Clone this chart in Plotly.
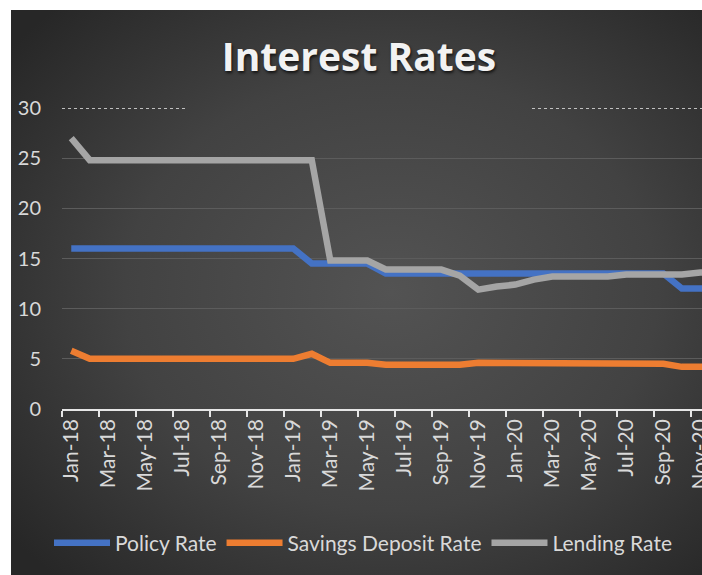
import base64
import plotly.graph_objects as go

months = ["Jan-18", "Feb-18", "Mar-18", "Apr-18", "May-18", "Jun-18", "Jul-18", "Aug-18",
          "Sep-18", "Oct-18", "Nov-18", "Dec-18", "Jan-19", "Feb-19", "Mar-19", "Apr-19",
          "May-19", "Jun-19", "Jul-19", "Aug-19", "Sep-19", "Oct-19", "Nov-19", "Dec-19",
          "Jan-20", "Feb-20", "Mar-20", "Apr-20", "May-20", "Jun-20", "Jul-20", "Aug-20",
          "Sep-20", "Oct-20", "Nov-20", "Dec-20"]

policy_rate = [16, 16, 16, 16, 16, 16, 16, 16, 16, 16, 16, 16, 16, 14.5, 14.5, 14.5,
               14.5, 13.5, 13.5, 13.5, 13.5, 13.5, 13.5, 13.5, 13.5, 13.5, 13.5, 13.5,
               13.5, 13.5, 13.5, 13.5, 13.5, 12, 12, 12]

savings_rate = [5.8, 5.0, 5.0, 5.0, 5.0, 5.0, 5.0, 5.0, 5.0, 5.0, 5.0, 5.0, 5.0, 5.5, 4.6, 4.6,
                4.6, 4.4, 4.4, 4.4, 4.4, 4.4, 4.6, 4.6, 4.6, 4.6, 4.6, 4.6, 4.5, 4.5, 4.5, 4.5,
                4.5, 4.2, 4.2, 4.2]

lending_rate = [27, 24.8, 24.8, 24.8, 24.8, 24.8, 24.8, 24.8, 24.8, 24.8, 24.8, 24.8, 24.8, 24.8,
                14.8, 14.8, 14.8, 13.9, 13.9, 13.9, 13.9, 13.3, 11.9, 12.2, 12.4, 12.9, 13.2,
                13.2, 13.2, 13.2, 13.4, 13.4, 13.4, 13.4, 13.6, 13.6]

y_ticks = [0, 5, 10, 15, 20, 25, 30]

series = [
    ("Policy Rate", policy_rate, "#4472C4"),
    ("Savings Deposit Rate", savings_rate, "#ED7D31"),
    ("Lending Rate", lending_rate, "#A5A5A5"),
]

xs = list(range(len(months)))

fig = go.Figure()
for name, vals, col in series:
    fig.add_trace(go.Scatter(
        x=xs, y=vals, name=name, mode="lines",
        line=dict(color=col, width=6.5),
        hoverinfo="skip",
    ))

svg = (
    '<svg xmlns="http://www.w3.org/2000/svg" width="200" height="200" viewBox="0 0 200 200" '
    'preserveAspectRatio="none"><defs><radialGradient id="g" cx="0.55" cy="0.5" r="0.7">'
    '<stop offset="0" stop-color="#535353"/><stop offset="0.55" stop-color="#424242"/>'
    '<stop offset="1" stop-color="#272727"/></radialGradient></defs>'
    '<rect width="200" height="200" fill="url(#g)"/></svg>'
)
src = "data:image/svg+xml;base64," + base64.b64encode(svg.encode()).decode()

W, H = 702, 575
L, R, T, B = 62, 0, 108, 166
pw, ph = W - L - R, H - T - B
bg_left, bg_top = 11, 10
img_x = (bg_left - L) / pw
img_y = (H - B - bg_top) / ph
img_sx = (W - bg_left) / pw
img_sy = (H - bg_top) / ph

fig.add_layout_image(dict(
    source=src, xref="paper", yref="paper", x=img_x, y=img_y,
    sizex=img_sx, sizey=img_sy, sizing="stretch", xanchor="left", yanchor="top",
    layer="below",
))

font_fam = "Lato, 'Open Sans', sans-serif"

fig.update_layout(
    width=W, height=H,
    margin=dict(l=L, r=R, t=T, b=B),
    paper_bgcolor="white",
    plot_bgcolor="rgba(0,0,0,0)",
    font=dict(family=font_fam, color="#D9D9D9"),
    title=dict(
        text="<b>Interest Rates</b>",
        x=359 / W, xref="container", xanchor="center",
        y=1 - 57 / H, yref="container", yanchor="middle",
        font=dict(size=39, color="#F2F2F2", family="'Open Sans', sans-serif",
                  shadow="1px 2px 3px rgba(0,0,0,0.7)"),
    ),
    showlegend=True,
    legend=dict(
        orientation="h", xref="container", yref="container",
        x=363 / W, xanchor="center", y=1 - 543 / H, yanchor="middle",
        font=dict(size=21, color="#D9D9D9", family=font_fam),
        itemwidth=56, bgcolor="rgba(0,0,0,0)", tracegroupgap=0,
    ),
    xaxis=dict(
        range=[-0.5, 34.09], autorange=False,
        tickmode="array", tickvals=xs[::2], ticktext=months[::2],
        tickangle=-90, ticks="", ticklen=0, ticklabeloverflow="allow",
        tickfont=dict(size=21, color="#D9D9D9"),
        showgrid=False, zeroline=False,
        showline=True, linecolor="#E6E6E6", linewidth=1.5,
        minor=dict(ticks="outside", ticklen=6, tickcolor="#E6E6E6", tickwidth=1.5,
                   tick0=-0.5, dtick=2, showgrid=False),
        automargin=False, fixedrange=True,
    ),
    yaxis=dict(
        range=[0, 30], autorange=False,
        tickmode="array", tickvals=y_ticks,
        ticks="", ticklabelstandoff=20,
        tickfont=dict(size=20, color="#D9D9D9"),
        showgrid=True, gridcolor="#5C5C5C", gridwidth=1,
        zeroline=False, showline=False,
        automargin=False, fixedrange=True,
    ),
)

# dotted highlight segments on the top gridline, as in the reference
for x0, x1 in [(0, (187 - L) / pw), ((532 - L) / pw, 1)]:
    fig.add_shape(type="line", xref="paper", yref="y", x0=x0, x1=x1, y0=30, y1=30,
                  line=dict(color="#EDEDED", width=1.5, dash="dot"), layer="below")

fig.write_html("out.html", config={"displayModeBar": False},
               post_script="document.body.style.margin='0';document.body.style.overflow='hidden';")
